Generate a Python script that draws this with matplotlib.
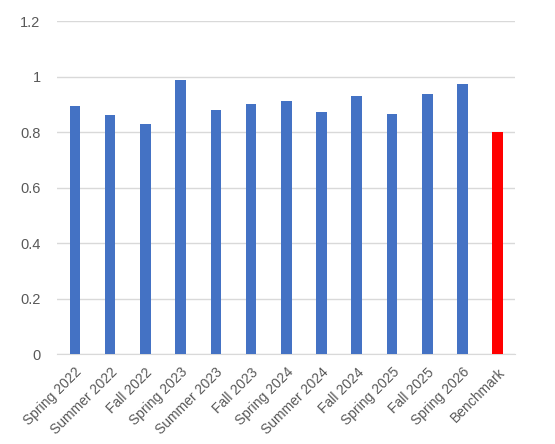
import matplotlib.pyplot as plt

terms = ['Spring 2022', 'Summer 2022', 'Fall 2022', 'Spring 2023', 'Summer 2023',
         'Fall 2023', 'Spring 2024', 'Summer 2024', 'Fall 2024', 'Spring 2025',
         'Fall 2025', 'Spring 2026', 'Benchmark']
values = [0.895, 0.861, 0.830, 0.987, 0.879, 0.902, 0.913, 0.874, 0.932,
          0.864, 0.938, 0.973, 0.80]
colors = ['#4472C4'] * 12 + ['#FF0000']
yticks = [0, 0.2, 0.4, 0.6, 0.8, 1, 1.2]
ylabels = ['0', '0.2', '0.4', '0.6', '0.8', '1', '1.2']

plt.rcParams['font.family'] = ['Liberation Sans', 'DejaVu Sans']

fig = plt.figure(figsize=(5.55, 4.44), dpi=100)
ax = fig.add_axes([0.1032, 0.2027, 0.8253, 0.7493])

x = list(range(len(terms)))
ax.bar(x, values, width=0.3, color=colors, zorder=3)

ax.set_xlim(-0.5, len(terms) - 0.5)
ax.set_ylim(0, 1.2)
ax.set_yticks(yticks)
ax.set_yticklabels(ylabels, fontsize=10.5)
ax.set_xticks(x)
ax.set_xticklabels(terms, rotation=45, ha='right', rotation_mode='anchor')

ax.grid(axis='y', color='#D9D9D9', linewidth=1, zorder=0)
for s in ['top', 'right', 'left']:
    ax.spines[s].set_visible(False)
ax.spines['bottom'].set_color('#D9D9D9')
ax.tick_params(axis='both', length=0, colors='#595959', labelsize=10)
ax.tick_params(axis='y', pad=12, labelsize=10.5)
ax.tick_params(axis='x', pad=8)

fig.savefig('out.png', dpi=100)
